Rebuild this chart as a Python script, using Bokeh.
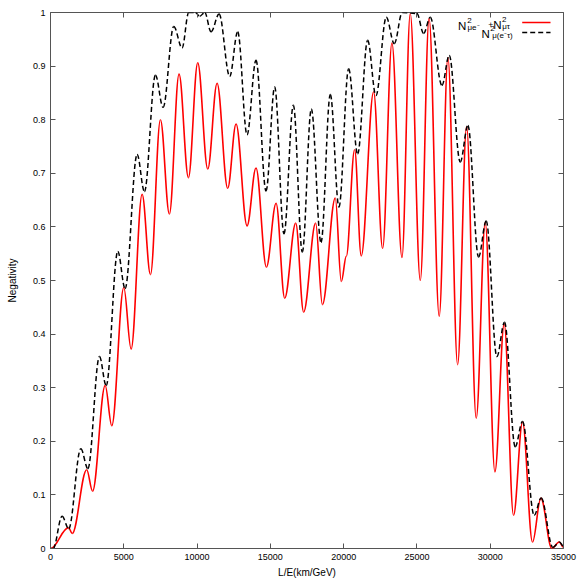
import numpy as np
from bokeh.plotting import figure
from bokeh.models import (Range1d, LinearAxis, FixedTicker, Label, Arrow,
                          ColumnDataSource, CustomLabelingPolicy)
from bokeh.embed import file_html
from bokeh.resources import INLINE

# ---- data (local extrema of each curve) ----
red_x = [0, 1230, 1480, 2470, 2870, 3730, 4180, 5000, 5500, 6250,
         6820, 7500, 8110, 8770, 9410, 10045, 10730, 11365, 12090, 12660,
         13410, 14020, 14730, 15390, 15980, 16730, 17270, 18090, 18550, 19430,
         19840, 20180, 20750, 21200, 22045, 22660, 23295, 23980, 24545, 25230,
         25830, 26520, 27115, 27775, 28390, 29045, 29660, 30320, 30955, 31590,
         32205, 32885, 33455, 34205, 34705, 35000]
red_y = [0.0, 0.039, 0.028, 0.147, 0.107, 0.304, 0.229, 0.487, 0.372, 0.661,
         0.511, 0.800, 0.624, 0.885, 0.692, 0.906, 0.708, 0.868, 0.672, 0.792,
         0.602, 0.710, 0.525, 0.644, 0.467, 0.607, 0.441, 0.607, 0.455, 0.654,
         0.498, 0.545, 0.744, 0.546, 0.852, 0.560, 0.943, 0.543, 0.998, 0.500,
         0.989, 0.433, 0.916, 0.343, 0.787, 0.243, 0.608, 0.143, 0.419, 0.062,
         0.236, 0.012, 0.094, 0.000, 0.012, 0.002]

black_x = [0, 180, 790, 1240, 2070, 2550, 3340, 3800, 4590, 5090, 5909,
           6409, 7159, 7682, 8409, 8977, 9430, 9890, 10182, 10523, 10955,
           11500, 12227, 12773, 13409, 14023, 14705, 15295, 15930, 16570, 17180,
           17795, 18455, 19091, 19680, 20341, 20955, 21636, 22205, 22909, 23455,
           24000, 25000, 25455, 25909, 26705, 27205, 27955, 28477, 29205, 29727,
           30455, 30977, 31705, 32205, 33000, 33477, 34273, 34727, 35000]
black_y = [0.0, 0.0, 0.060, 0.037, 0.186, 0.149, 0.358, 0.304, 0.554, 0.485, 0.735,
           0.666, 0.883, 0.823, 0.974, 0.934, 1.0, 1.0, 0.993, 1.0, 0.964,
           0.997, 0.881, 0.964, 0.772, 0.911, 0.667, 0.861, 0.587, 0.827, 0.553,
           0.820, 0.571, 0.847, 0.637, 0.895, 0.736, 0.948, 0.845, 0.991, 0.942,
           1.0, 0.998, 0.961, 0.991, 0.864, 0.920, 0.721, 0.789, 0.544, 0.611,
           0.358, 0.422, 0.190, 0.237, 0.062, 0.094, 0.002, 0.012, 0.004]

x_ticks = [0, 5000, 10000, 15000, 20000, 25000, 30000, 35000]
x_tick_labels = ["0", "5000", "10000", "15000", "20000", "25000", "30000", "35000"]
y_ticks = [0, 0.1, 0.2, 0.3, 0.4, 0.5, 0.6, 0.7, 0.8, 0.9, 1]
y_tick_labels = ["0", "0.1", "0.2", "0.3", "0.4", "0.5", "0.6", "0.7", "0.8", "0.9", "1"]

x_title = "L/E(km/GeV)"
y_title = "Negativity"

FONT = "Liberation Sans"
FRAME = "#555555"
X_MAX = 35000
Y_MAX = 1.0


def smooth_segments(xs, ys, k=0.36):
    """Cubic Bezier pieces between consecutive extrema (flat tangents at extrema)."""
    xs = np.asarray(xs, float)
    ys = np.asarray(ys, float)
    x0, x1 = xs[:-1], xs[1:]
    y0, y1 = ys[:-1], ys[1:]
    d = x1 - x0
    return ColumnDataSource(dict(x0=x0, y0=y0, x1=x1, y1=y1,
                                 cx0=x0 + k * d, cy0=y0,
                                 cx1=x1 - k * d, cy1=y1))


p = figure(width=581, height=581, output_backend="svg", toolbar_location=None,
           x_range=Range1d(0, X_MAX), y_range=Range1d(0, Y_MAX),
           min_border_left=50, min_border_right=18,
           min_border_top=12, min_border_bottom=33)
p.background_fill_color = "white"
p.border_fill_color = "white"
p.outline_line_color = FRAME
p.outline_line_width = 1
p.grid.visible = False

no_labels = CustomLabelingPolicy(code="for (const i of indices) indices.unset(i)")


def style_axis(ax, ticks, labels, show):
    ax.ticker = FixedTicker(ticks=ticks)
    ax.major_label_overrides = dict(zip(ticks, labels))
    ax.axis_line_color = None
    ax.major_tick_in = 5
    ax.major_tick_out = 0
    ax.major_tick_line_color = FRAME
    ax.minor_tick_line_color = None
    ax.major_label_text_font = FONT
    ax.major_label_text_color = "black"
    if show:
        ax.major_label_text_font_size = "9px"
        ax.major_label_standoff = 5
    else:
        ax.major_label_text_font_size = "0px"
        ax.major_label_standoff = 0
        ax.major_label_policy = no_labels


style_axis(p.xaxis[0], x_ticks, x_tick_labels, True)
style_axis(p.yaxis[0], y_ticks, y_tick_labels, True)
p.xaxis[0].axis_label = x_title
p.yaxis[0].axis_label = y_title
for ax, st in ((p.xaxis[0], 4), (p.yaxis[0], 12)):
    ax.axis_label_text_font = FONT
    ax.axis_label_text_font_size = "10px"
    ax.axis_label_text_font_style = "normal"
    ax.axis_label_text_color = "black"
    ax.axis_label_standoff = st

top = LinearAxis()
style_axis(top, x_ticks, x_tick_labels, False)
p.add_layout(top, "above")
right = LinearAxis()
style_axis(right, y_ticks, y_tick_labels, False)
p.add_layout(right, "right")

seg = dict(x0="x0", y0="y0", x1="x1", y1="y1", cx0="cx0", cy0="cy0", cx1="cx1", cy1="cy1")
red_style = dict(line_color="#ff0000", line_width=1.6)
black_style = dict(line_color="black", line_width=1.5, line_dash="5 3")
p.bezier(source=smooth_segments(red_x, red_y), **red_style, **seg)
p.bezier(source=smooth_segments(black_x, black_y), **black_style, **seg)

# ---- key (gnuplot style: text on the left, sample on the right) ----
key_x0, key_x1 = 0.9195 * X_MAX, 0.9747 * X_MAX
for ky, style in ((0.9813 * Y_MAX, red_style), (0.9627 * Y_MAX, black_style)):
    p.add_layout(Arrow(start=None, end=None, x_start=key_x0, y_start=ky,
                       x_end=key_x1, y_end=ky, **style))

legend_texts = [
    ("N", 27800, 0.9754, "11.5px"), ("2", 28430, 0.9845, "8px"), ("μe⁻", 28450, 0.9712, "8px"),
    ("+", 29863, 0.9767, "8.5px"),
    ("N", 30200, 0.9763, "11.5px"), ("2", 30800, 0.9862, "8px"), ("μτ", 30820, 0.9730, "8px"),
    ("N", 29400, 0.9608, "11.5px"), ("2", 30010, 0.9695, "8px"), ("μ(e⁻τ)", 30136, 0.9568, "8px"),
]
for t, lx, ly, fs in legend_texts:
    p.add_layout(Label(x=lx, y=ly, text=t, text_font=FONT, text_font_size=fs,
                       text_color="black", text_baseline="alphabetic", text_align="left"))

open("out.html", "w").write(file_html(p, INLINE))
